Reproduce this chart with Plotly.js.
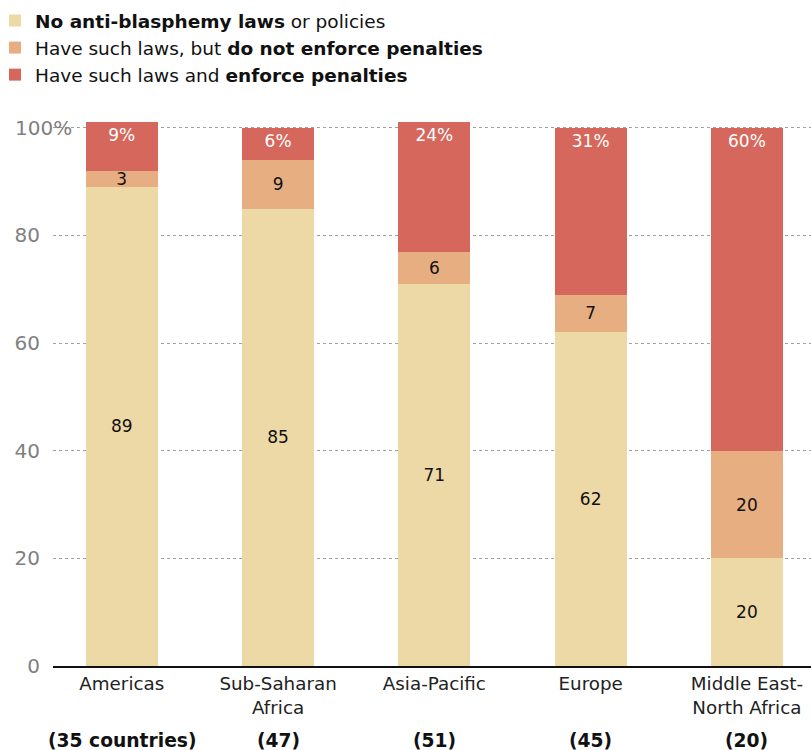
<!DOCTYPE html>
<html>
<head>
<meta charset="utf-8">
<script src="https://cdn.plot.ly/plotly-3.0.1.min.js"></script>
<style>html,body{margin:0;padding:0;background:#fff;}#chart{width:811px;height:750px;}</style>
</head>
<body>
<div id="chart"></div>
<script>
// ---- data ----
const regions = ["Americas", "Sub-Saharan<br>Africa", "Asia-Pacific", "Europe", "Middle East-<br>North Africa"];
const countryCounts = ["(35 countries)", "(47)", "(51)", "(45)", "(20)"];
const noLaws = [89, 85, 71, 62, 20];
const lawsNotEnforced = [3, 9, 6, 7, 20];
const lawsEnforced = [9, 6, 24, 31, 60];
const seriesNames = [
  "<b>No anti-blasphemy laws</b> or policies",
  "Have such laws, but <b>do not enforce penalties</b>",
  "Have such laws and <b>enforce penalties</b>"
];
const yTickVals = [0, 20, 40, 60, 80, 100];
const yTickText = ["0", "20", "40", "60", "80", ""];
const topTickLabel = "100%";

// ---- styles ----
const FONT = "DejaVu Sans, Verdana, sans-serif";
const colors = ["#EDD9A5", "#E7AE82", "#D6675C"];

const traces = [
  {
    type: "bar", x: regions, y: noLaws, name: seriesNames[0],
    marker: {color: colors[0]}, legendgroup: "a",
    text: noLaws.map(String), textposition: "inside", insidetextanchor: "middle",
    constraintext: "none", textfont: {family: FONT, size: 17, color: "#111"},
    textangle: 0, hoverinfo: "skip"
  },
  {
    type: "bar", x: regions, y: lawsNotEnforced, name: seriesNames[1],
    marker: {color: colors[1]}, legendgroup: "b",
    text: lawsNotEnforced.map(String), textposition: "inside", insidetextanchor: "middle",
    constraintext: "none", textfont: {family: FONT, size: 17, color: "#111"},
    textangle: 0, hoverinfo: "skip", cliponaxis: false
  },
  {
    type: "bar", x: regions, y: lawsEnforced, name: seriesNames[2],
    marker: {color: colors[2]}, legendgroup: "c",
    text: lawsEnforced.map(v => v + "%"), textposition: "inside", insidetextanchor: "end",
    constraintext: "none", textfont: {family: FONT, size: 17, color: "#fff"},
    textangle: 0, hoverinfo: "skip"
  }
];

const annotations = countryCounts.map((c, i) => ({
  text: "<b>" + c + "</b>", x: regions[i], xref: "x", y: -0.135, yref: "paper",
  xanchor: "center", yanchor: "middle", showarrow: false,
  font: {family: FONT, size: 18.7, color: "#111"}
}));
annotations.push({
  text: topTickLabel, x: -40 / 758, xref: "paper", y: 100, yref: "y",
  xanchor: "left", yanchor: "middle", showarrow: false,
  font: {family: FONT, size: 20, color: "#808080"}
});

const layout = {
  width: 811, height: 750,
  margin: {l: 53, r: 0, t: 117, b: 84, autoexpand: false},
  paper_bgcolor: "#fff", plot_bgcolor: "#fff",
  barmode: "stack", bargap: 0.54,
  font: {family: FONT, color: "#111"},
  showlegend: true,
  legend: {
    x: -58 / 758, y: 1 + 115 / 549,
    xanchor: "left", yanchor: "top", traceorder: "normal",
    font: {family: FONT, size: 18.5, color: "#111"},
    tracegroupgap: 4.5, bgcolor: "rgba(0,0,0,0)"
  },
  xaxis: {
    type: "category", range: [-0.44, 4.41], fixedrange: true,
    showgrid: false, zeroline: false, tickangle: 0,
    showline: true, linecolor: "#111", linewidth: 2,
    ticks: "", tickfont: {family: FONT, size: 18.3, color: "#222"}
  },
  yaxis: {
    range: [0, 102], fixedrange: true,
    tickvals: yTickVals, ticktext: yTickText,
    showgrid: true, gridcolor: "#a0a0a0", griddash: "dot", gridwidth: 1,
    zeroline: false, showline: false, ticks: "",
    ticklabelstandoff: 12,
    tickfont: {family: FONT, size: 20, color: "#808080"}
  },
  annotations: annotations
};

Plotly.newPlot("chart", traces, layout, {displayModeBar: false, staticPlot: true});
</script>
</body>
</html>
